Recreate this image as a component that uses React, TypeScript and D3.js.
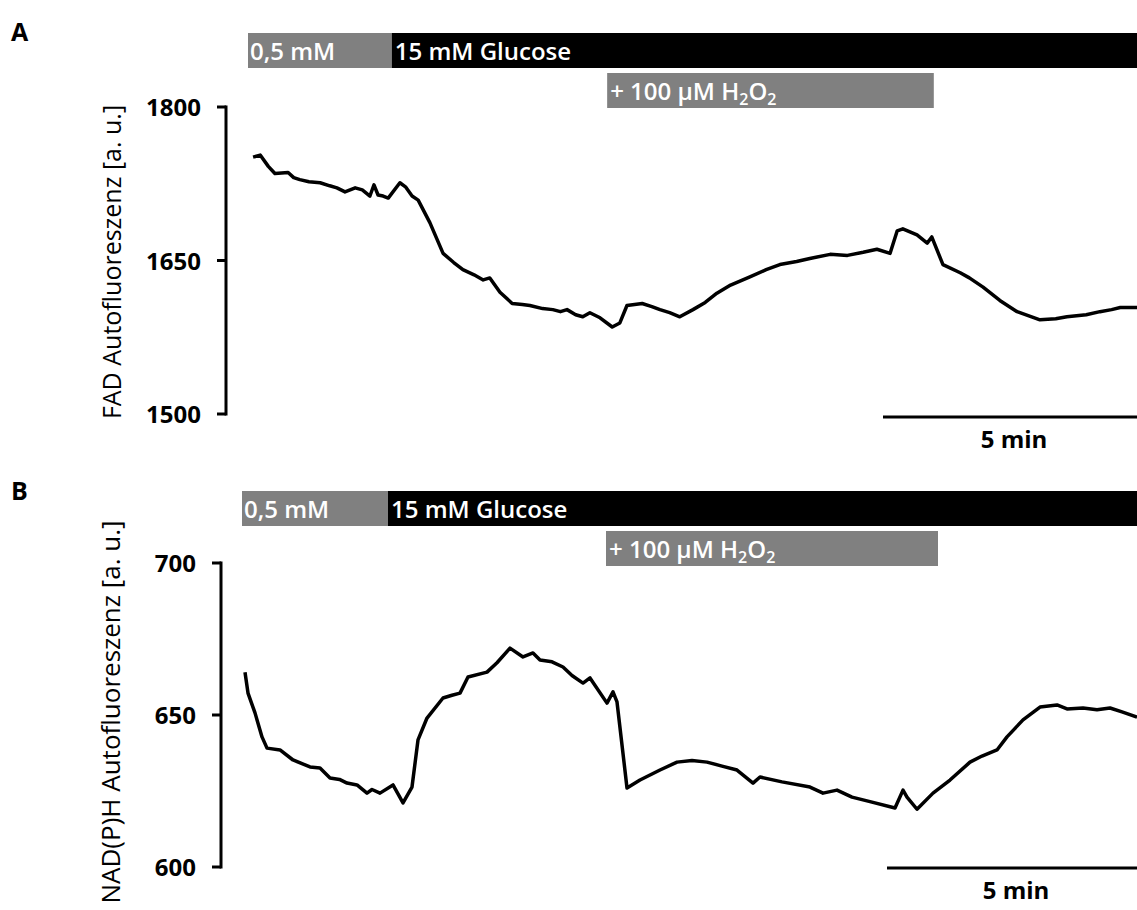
import React from 'react'
import * as d3 from 'd3'

// time in minutes, value in a.u.
const fadTime = [0.1, 0.24, 0.4, 0.53, 0.79, 0.9, 1.02, 1.2, 1.42, 1.61, 1.75, 1.91, 2.11, 2.25, 2.4, 2.48, 2.56, 2.66, 2.76, 2.99, 3.1, 3.23, 3.35, 3.58, 3.84, 4.05, 4.23, 4.45, 4.63, 4.76, 4.96, 5.2, 5.4, 5.55, 5.8, 6.0, 6.15, 6.28, 6.45, 6.59, 6.73, 6.93, 7.17, 7.32, 7.46, 7.76, 7.95, 8.11, 8.3, 8.5, 8.76, 9.0, 9.23, 9.5, 9.88, 10.2, 10.47, 10.8, 11.06, 11.46, 11.8, 12.11, 12.38, 12.64, 12.78, 12.89, 13.17, 13.37, 13.46, 13.68, 14.02, 14.2, 14.47, 14.8, 15.14, 15.59, 15.9, 16.12, 16.5, 16.77, 17.0, 17.17, 17.5]
const fadValue = [1751, 1753, 1742, 1735, 1736, 1731, 1729, 1727, 1726, 1723, 1721, 1717, 1721, 1719, 1713, 1724, 1714, 1713, 1711, 1726, 1722, 1713, 1709, 1687, 1657, 1648, 1641, 1636, 1631, 1633, 1619, 1608, 1607, 1606, 1603, 1602, 1600, 1602, 1597, 1595, 1599, 1594, 1585, 1589, 1606, 1608, 1605, 1602, 1599, 1595, 1602, 1609, 1618, 1626, 1634, 1641, 1646, 1649, 1652, 1656, 1655, 1658, 1661, 1657, 1679, 1681, 1675, 1667, 1673, 1646, 1638, 1633, 1624, 1611, 1600, 1592, 1593, 1595, 1597, 1600, 1602, 1604, 1604]

const nadTime = [0.06, 0.12, 0.26, 0.4, 0.5, 0.76, 1.02, 1.2, 1.36, 1.56, 1.76, 1.95, 2.1, 2.3, 2.5, 2.6, 2.76, 3.02, 3.22, 3.4, 3.52, 3.7, 4.02, 4.2, 4.36, 4.52, 4.9, 5.1, 5.36, 5.62, 5.82, 5.96, 6.2, 6.42, 6.6, 6.82, 6.96, 7.3, 7.42, 7.5, 7.7, 7.96, 8.36, 8.7, 9.0, 9.3, 9.6, 9.9, 10.22, 10.36, 10.8, 11.36, 11.62, 11.9, 12.2, 12.56, 13.06, 13.22, 13.3, 13.5, 13.82, 14.16, 14.56, 14.8, 15.1, 15.3, 15.62, 15.96, 16.3, 16.5, 16.82, 17.1, 17.36, 17.6, 17.9]
const nadValue = [664.1, 657.2, 650.7, 642.8, 639.1, 638.5, 635.2, 634.0, 632.9, 632.6, 629.3, 628.8, 627.6, 627.0, 624.3, 625.5, 624.3, 627.0, 621.1, 626.3, 641.8, 649.0, 655.6, 656.5, 657.2, 662.5, 664.1, 667.2, 672.0, 669.1, 670.4, 668.1, 667.5, 665.8, 663.0, 660.5, 662.2, 653.9, 657.6, 654.3, 626.0, 628.6, 631.9, 634.5, 635.0, 634.5, 633.2, 631.9, 627.6, 629.6, 628.0, 626.3, 624.3, 625.3, 623.0, 621.5, 619.4, 625.3, 623.0, 619.0, 624.3, 628.6, 634.5, 636.5, 638.5, 642.8, 648.4, 652.6, 653.3, 652.0, 652.3, 651.7, 652.3, 651.0, 649.3]

const fadTicks = [1500, 1650, 1800]
const nadTicks = [600, 650, 700]

// treatment bars: [start, end] in minutes
const fadLowGlucose = [0, 2.83]
const fadHighGlucose = [2.83, 17.5]
const fadH2O2 = [7.07, 13.5]
const nadLowGlucose = [0, 2.92]
const nadHighGlucose = [2.92, 17.9]
const nadH2O2 = [7.28, 13.92]

const font = "'Open Sans', sans-serif"

function Panel(props: any) {
  const { letter, top, time, value, ticks, xRange, xMax, yRange, axisX, title, titleSize, titleX, titleY,
    low, high, h2o2, barTop, h2Top, scaleStart, scaleY } = props
  const x = d3.scaleLinear().domain([0, xMax]).range(xRange)
  const y = d3.scaleLinear().domain([ticks[0], ticks[ticks.length - 1]]).range(yRange)
  const pts = time.map((t: number, i: number) => [t, value[i]] as [number, number])
  const line = d3.line<[number, number]>().x(d => x(d[0])).y(d => y(d[1]))
  const barFont = { fill: '#fff', fontFamily: font, fontWeight: 600, fontSize: 24 }

  return (
    <g>
      <text x={11} y={top} fontFamily={font} fontWeight={700} fontSize={25}>{letter}</text>
      <rect x={x(low[0])} y={barTop} width={x(low[1]) - x(low[0])} height={35} fill="#808080" />
      <rect x={x(high[0])} y={barTop} width={x(high[1]) - x(high[0])} height={35} fill="#000" />
      <text x={x(low[0]) + 2} y={barTop + 27} {...barFont}>0,5 mM</text>
      <text x={x(high[0]) + 3} y={barTop + 27} {...barFont}>15 mM Glucose</text>
      <rect x={x(h2o2[0])} y={h2Top} width={x(h2o2[1]) - x(h2o2[0])} height={35} fill="#808080" />
      <text x={x(h2o2[0]) + 3} y={h2Top + 27} {...barFont}>
        + 100 µM H<tspan fontSize={16} dy={5}>2</tspan><tspan dy={-5}>O</tspan><tspan fontSize={16} dy={5}>2</tspan>
      </text>

      <line x1={axisX} x2={axisX} y1={y(ticks[0]) + 1.5} y2={y(ticks[ticks.length - 1]) - 1.5} stroke="#000" strokeWidth={3} />
      {ticks.map((t: number) => (
        <g key={t}>
          <line x1={axisX - 9} x2={axisX} y1={y(t)} y2={y(t)} stroke="#000" strokeWidth={3} />
          <text x={axisX - 25} y={y(t) + 9} textAnchor="end" fontFamily={font} fontWeight={700} fontSize={24}>{t}</text>
        </g>
      ))}
      <text transform={`translate(${titleX},${titleY}) rotate(-90)`} textAnchor="middle" fontFamily={font} fontSize={titleSize}>{title}</text>

      <path d={line(pts) || ''} fill="none" stroke="#000" strokeWidth={3.5} strokeLinejoin="round" />

      <line x1={x(scaleStart)} x2={x(scaleStart + 5)} y1={scaleY} y2={scaleY} stroke="#000" strokeWidth={3} />
      <text x={(x(scaleStart) + x(scaleStart + 5)) / 2 + 4} y={scaleY + 31} textAnchor="middle" fontFamily={font} fontWeight={700} fontSize={24}>5 min</text>
    </g>
  )
}

export default function App() {
  return (
    <svg width={1137} height={910} style={{ position: 'absolute', left: 0, top: 0, background: '#fff' }}>
      <Panel letter="A" top={41} time={fadTime} value={fadValue} ticks={fadTicks}
        xRange={[248, 1137]} xMax={17.5} yRange={[414, 107]} axisX={226}
        title="FAD Autofluoreszenz [a. u.]" titleSize={25} titleX={121} titleY={262}
        low={fadLowGlucose} high={fadHighGlucose} h2o2={fadH2O2} barTop={33} h2Top={73}
        scaleStart={12.5} scaleY={417} />
      <Panel letter="B" top={500} time={nadTime} value={nadValue} ticks={nadTicks}
        xRange={[242, 1137]} xMax={17.9} yRange={[867, 563]} axisX={221}
        title="NAD(P)H Autofluoreszenz [a. u.]" titleSize={26} titleX={120} titleY={712}
        low={nadLowGlucose} high={nadHighGlucose} h2o2={nadH2O2} barTop={491} h2Top={531}
        scaleStart={12.9} scaleY={868} />
    </svg>
  )
}
